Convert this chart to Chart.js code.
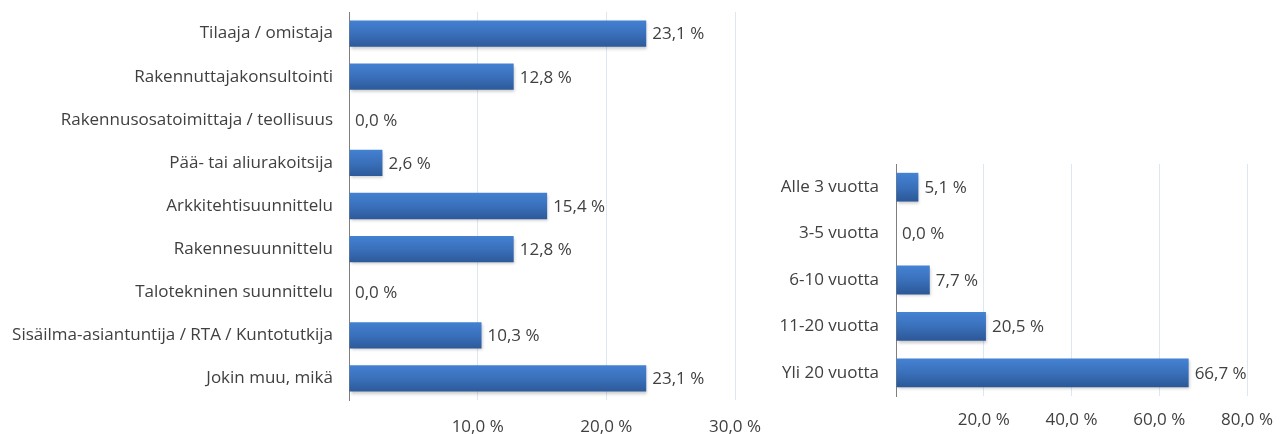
<!DOCTYPE html>
<html>
<head>
<meta charset="utf-8">
<script src="https://cdn.jsdelivr.net/npm/chart.js@4.4.1/dist/chart.umd.min.js"></script>
<style>
  body { margin: 0; background: #fff; width: 1285px; height: 434px; overflow: hidden; position: relative; }
  #roles { position: absolute; left: 0; top: 0; }
  #years { position: absolute; left: 770px; top: 0; }
</style>
</head>
<body>
<canvas id="roles" width="770" height="434" style="width:770px;height:434px"></canvas>
<canvas id="years" width="515" height="434" style="width:515px;height:434px"></canvas>
<script>
// data
var roleLabels = [
    "Tilaaja / omistaja",
    "Rakennuttajakonsultointi",
    "Rakennusosatoimittaja / teollisuus",
    "Pää- tai aliurakoitsija",
    "Arkkitehtisuunnittelu",
    "Rakennesuunnittelu",
    "Talotekninen suunnittelu",
    "Sisäilma-asiantuntija / RTA / Kuntotutkija",
    "Jokin muu, mikä"
];
var roleValues = [23.1, 12.8, 0.0, 2.6, 15.4, 12.8, 0.0, 10.3, 23.1];
var roleAxis = { max: 30, step: 10 };

var yearLabels = ["Alle 3 vuotta", "3-5 vuotta", "6-10 vuotta", "11-20 vuotta", "Yli 20 vuotta"];
var yearValues = [5.1, 0.0, 7.7, 20.5, 66.7];
var yearAxis = { max: 80, step: 20 };

var FONT = "'Open Sans', sans-serif";
var FSIZE = 17;
var TEXT = "#404040";

function pct(v) {
    return v.toFixed(1).replace(".", ",") + " %";
}

// vertical gradient per bar, like the office chart bevel
function barFill(ctx) {
    var chart = ctx.chart;
    var y = chart.scales.y;
    if (!y || ctx.dataIndex === undefined) return "#3a70bb";
    var c = y.getPixelForValue(ctx.dataIndex);
    if (!isFinite(c)) return "#3a70bb";
    var g = chart.ctx.createLinearGradient(0, c - 14, 0, c + 14);
    g.addColorStop(0, "#4482d3");
    g.addColorStop(0.5, "#3a70bb");
    g.addColorStop(1, "#2c5898");
    return g;
}

var valueLabels = {
    id: "valueLabels",
    beforeDatasetsDraw: function (chart) {
        var ctx = chart.ctx;
        ctx.save();
        ctx.shadowColor = "rgba(0,0,0,0.22)";
        ctx.shadowOffsetY = 2;
        ctx.shadowOffsetX = 1;
        ctx.shadowBlur = 3;
    },
    afterDatasetsDraw: function (chart) {
        var ctx = chart.ctx;
        ctx.restore();
        var meta = chart.getDatasetMeta(0);
        ctx.save();
        ctx.font = FSIZE + "px " + FONT;
        ctx.fillStyle = TEXT;
        ctx.textAlign = "left";
        ctx.textBaseline = "middle";
        meta.data.forEach(function (bar, i) {
            ctx.fillText(pct(chart.data.datasets[0].data[i]), bar.x + 6, bar.y + 1);
        });
        ctx.restore();
    }
};

function makeChart(id, labels, values, axis, geo) {
    return new Chart(document.getElementById(id), {
        type: "bar",
        data: {
            labels: labels,
            datasets: [{
                data: values,
                backgroundColor: barFill,
                borderWidth: 0,
                barPercentage: geo.bar,
                categoryPercentage: 1
            }]
        },
        options: {
            indexAxis: "y",
            responsive: false,
            animation: false,
            events: [],
            layout: { padding: { left: 0, top: geo.top, right: geo.right, bottom: 0 } },
            plugins: { legend: { display: false }, tooltip: { enabled: false } },
            scales: {
                x: {
                    min: 0,
                    max: axis.max,
                    afterFit: function (s) {
                        s.height = geo.xh;
                        s.paddingLeft = 0;
                        s.paddingRight = 0;
                    },
                    ticks: {
                        stepSize: axis.step,
                        padding: geo.tpad,
                        color: TEXT,
                        font: { family: FONT, size: FSIZE },
                        callback: function (v) { return v === 0 ? "" : pct(v); }
                    },
                    grid: {
                        drawTicks: false,
                        color: function (c) { return c.tick && c.tick.value === 0 ? "rgba(0,0,0,0)" : "#dde7f3"; }
                    },
                    border: { display: false }
                },
                y: {
                    afterFit: function (s) {
                        s.width = geo.yw;
                        s.paddingTop = 0;
                        s.paddingBottom = 0;
                    },
                    ticks: {
                        padding: geo.ypad,
                        color: TEXT,
                        font: { family: FONT, size: FSIZE }
                    },
                    grid: { display: false, drawTicks: false },
                    border: { display: true, color: "#7f7f7f", width: 1 }
                }
            }
        },
        plugins: [valueLabels]
    });
}

makeChart("roles", roleLabels, roleValues, roleAxis,
    { top: 12, right: 35, xh: 34, yw: 349, bar: 0.61, tpad: 17, ypad: 16 });
makeChart("years", yearLabels, yearValues, yearAxis,
    { top: 164, right: 38, xh: 38, yw: 126, bar: 0.62, tpad: 14, ypad: 17 });
</script>
</body>
</html>
